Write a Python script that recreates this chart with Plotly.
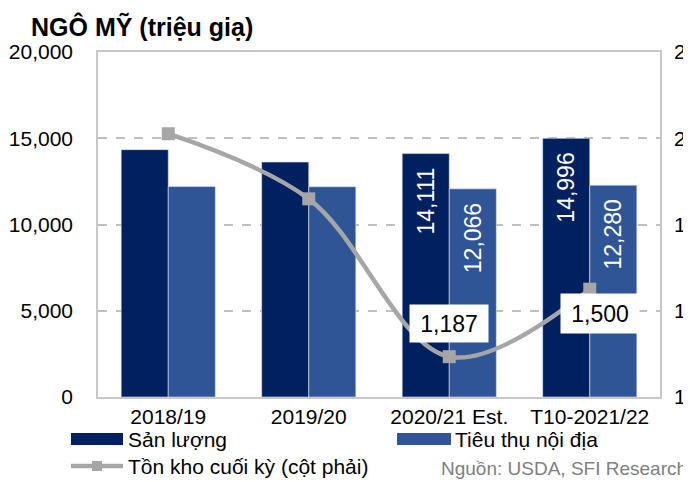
import plotly.graph_objects as go

categories = ["2018/19", "2019/20", "2020/21 Est.", "T10-2021/22"]
production = [14340, 13620, 14111, 14996]
consumption = [12200, 12190, 12066, 12280]
stocks = [2221, 1919, 1187, 1500]
prod_labels = ["", "", "14,111", "14,996"]
cons_labels = ["", "", "12,066", "12,280"]

OFF = 8  # page body margin
W, H = 691 - OFF, 482 - OFF
# plot area in reference-window pixels
L, R, T, B = 98, 660, 52, 397
FONT = "Liberation Sans, Arial, sans-serif"
DARK = "#002060"
LIGHT = "#2F5597"
GREY = "#A6A6A6"

def px(x):
    return (x - L) / (R - L)

def py(y):
    return (B - y) / (B - T)

pad = "\u00a0\u2009"

fig = go.Figure()
fig.add_trace(go.Bar(
    x=categories, y=production, name="Sản lượng",
    marker=dict(color=DARK, line=dict(color="#DCE3F0", width=0.6)),
    text=[t + pad if t else "" for t in prod_labels],
    textposition="inside", insidetextanchor="end", textangle=-90,
    textfont=dict(color="white", size=23, family=FONT),
    showlegend=False,
))
fig.add_trace(go.Bar(
    x=categories, y=consumption, name="Tiêu thụ nội địa",
    marker=dict(color=LIGHT, line=dict(color="#DCE3F0", width=0.6)),
    text=[t + pad if t else "" for t in cons_labels],
    textposition="inside", insidetextanchor="end", textangle=-90,
    textfont=dict(color="white", size=23, family=FONT),
    showlegend=False,
))
fig.add_trace(go.Scatter(
    x=categories, y=stocks, yaxis="y2", name="Tồn kho cuối kỳ (cột phải)",
    mode="lines+markers",
    line=dict(color=GREY, width=4.5, shape="spline", smoothing=1),
    marker=dict(symbol="square", size=13, color=GREY),
    showlegend=False,
))

annotations = []
annotations.append(dict(x=categories[2], y=stocks[2], xref="x", yref="y2",
                        text="{:,}".format(stocks[2]), showarrow=False,
                        yshift=33, bgcolor="white", width=76, height=35,
                        font=dict(size=23, color="black", family=FONT)))
annotations.append(dict(x=categories[3], y=stocks[3], xref="x", yref="y2",
                        text="{:,}".format(stocks[3]), showarrow=False,
                        xshift=10, yshift=-24, bgcolor="white", width=76, height=37,
                        font=dict(size=23, color="black", family=FONT)))

shapes = []
shapes.append(dict(type="rect", xref="paper", yref="paper",
                   x0=px(71), x1=px(123), y0=py(445), y1=py(433),
                   fillcolor=DARK, line=dict(width=0)))
shapes.append(dict(type="rect", xref="paper", yref="paper",
                   x0=px(397), x1=px(451), y0=py(445), y1=py(433),
                   fillcolor=LIGHT, line=dict(width=0)))
shapes.append(dict(type="line", xref="paper", yref="paper",
                   x0=px(71), x1=px(123), y0=py(466), y1=py(466),
                   line=dict(color=GREY, width=4.5)))
shapes.append(dict(type="rect", xref="paper", yref="paper",
                   x0=px(92), x1=px(102), y0=py(471), y1=py(461),
                   fillcolor=GREY, line=dict(width=0)))
legend_items = [("Sản lượng", 126, 439), ("Tiêu thụ nội địa", 453, 439),
                ("Tồn kho cuối kỳ (cột phải)", 126, 466)]
for txt, x, y in legend_items:
    annotations.append(dict(x=px(x), y=py(y), xref="paper", yref="paper",
                            text=txt, showarrow=False, xanchor="left", yanchor="middle",
                            font=dict(size=21, color="black", family=FONT)))
annotations.append(dict(x=px(689), y=py(468), xref="paper", yref="paper",
                        text="Nguồn: USDA, SFI Research", showarrow=False,
                        xanchor="right", yanchor="middle",
                        font=dict(size=19, color="#808080", family=FONT)))

fig.update_layout(
    width=W, height=H,
    margin=dict(l=L - OFF, r=W - (R - OFF), t=T - OFF, b=H - (B - OFF), autoexpand=False),
    paper_bgcolor="white", plot_bgcolor="white",
    barmode="group", bargap=0.33, bargroupgap=0,
    font=dict(family=FONT, size=21, color="black"),
    title=dict(text="<b>NGÔ MỸ (triệu giạ)</b>", x=(31 - OFF) / W, xanchor="left",
               y=1 - (27 - OFF) / H, yanchor="middle", yref="container",
               font=dict(size=25, color="black", family=FONT)),
    xaxis=dict(type="category", showline=True, linecolor="#C8C8C8", linewidth=1.5,
               mirror=True, ticks="", showgrid=False, automargin=False,
               tickfont=dict(size=21), ticklabelstandoff=0),
    yaxis=dict(range=[0, 20000], dtick=5000, tickformat=",", showline=True,
               linecolor="#C8C8C8", linewidth=1.5, mirror=True,
               showgrid=True, gridcolor="#BFBFBF", gridwidth=1.5, griddash="dash",
               zeroline=False, ticks="", automargin=False, ticklabelstandoff=19,
               tickfont=dict(size=21)),
    yaxis2=dict(range=[1000, 2600], tick0=1000, dtick=400, tickformat=",",
                overlaying="y", side="right", showgrid=False, showline=False,
                zeroline=False, ticks="", automargin=False, ticklabelstandoff=13,
                tickfont=dict(size=21)),
    annotations=annotations,
    shapes=shapes,
)

fig.write_html("out.html")
